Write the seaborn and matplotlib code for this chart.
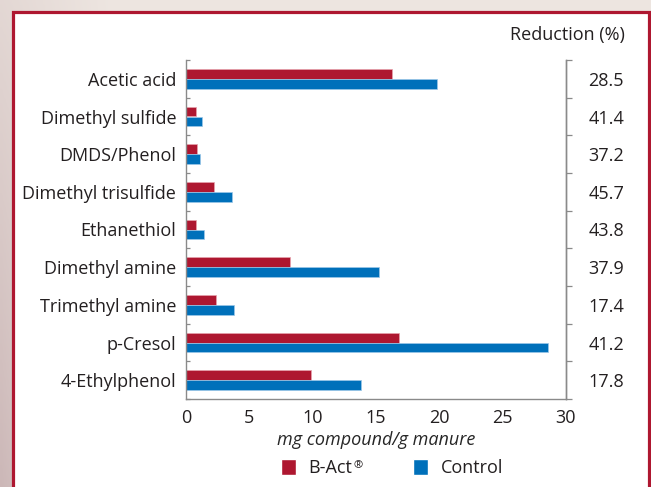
import numpy as np
import pandas as pd
import matplotlib
matplotlib.use('Agg')
import matplotlib.pyplot as plt
import seaborn as sns
from matplotlib.patches import Rectangle, Patch
from matplotlib.ticker import FixedLocator

compounds = ['Acetic acid', 'Dimethyl sulfide', 'DMDS/Phenol', 'Dimethyl trisulfide',
             'Ethanethiol', 'Dimethyl amine', 'Trimethyl amine', 'p-Cresol', '4-Ethylphenol']
bact = [16.3, 0.8, 0.9, 2.2, 0.8, 8.2, 2.4, 16.8, 9.9]
control = [19.8, 1.3, 1.1, 3.6, 1.45, 15.2, 3.8, 28.6, 13.8]
reduction = ['28.5', '41.4', '37.2', '45.7', '43.8', '37.9', '17.4', '41.2', '17.8']
groups = ['B-Act®', 'Control']

RED = '#ae1730'
BLUE = '#0070ba'
TXT = '#231f20'
GREY = '#8a8a8a'
FS = 13

df = pd.DataFrame({
    'compound': compounds * 2,
    'value': bact + control,
    'group': [groups[0]] * len(compounds) + [groups[1]] * len(compounds),
})

sns.set_style('white')
plt.rcParams['font.family'] = ['Open Sans', 'DejaVu Sans']
plt.rcParams['text.color'] = TXT
plt.rcParams['xtick.color'] = TXT
plt.rcParams['ytick.color'] = TXT

W, H = 651, 487
fig = plt.figure(figsize=(W / 100, H / 100), dpi=100)

# background with a soft gradient and the red framed white panel
bg = fig.add_axes([0, 0, 1, 1])
gx = np.linspace(0, 1, 200)
gy = np.linspace(0, 1, 200)
GX, GY = np.meshgrid(gx, gy)
shade = np.clip(1 - GX * 6, 0, 1) * (0.3 + 0.7 * GY)
c1 = np.array([0.93, 0.90, 0.88])
c2 = np.array([0.80, 0.72, 0.72])
img = c1[None, None, :] * (1 - shade[..., None]) + c2[None, None, :] * shade[..., None]
bg.imshow(img, extent=[0, 1, 0, 1], aspect='auto', origin='upper')
bg.add_patch(Rectangle((12.5 / W, -0.05), (648.5 - 12.5) / W, (H - 11.5) / H + 0.05,
                       facecolor='white', edgecolor=RED, linewidth=2.3,
                       transform=bg.transAxes))
bg.set_xlim(0, 1)
bg.set_ylim(0, 1)
bg.axis('off')

ax = fig.add_axes([186 / W, (H - 399) / H, (566 - 186) / W, (399 - 60) / H])
sns.barplot(data=df, y='compound', x='value', hue='group', orient='h',
            palette=[RED, BLUE], saturation=1, width=0.52, ax=ax, legend=False)

edge = {0: '#e7a3ad', 1: '#9cc8e8'}
for k, cont in enumerate(ax.containers):
    for bar in cont:
        bar.set_edgecolor(edge[k])
        bar.set_linewidth(0.5)

ax.set_xlim(0, 30)
ax.set_ylim(8.5, -0.5)
ax.set_xticks(range(0, 31, 5))
ax.set_xlabel('mg compound/g manure', fontsize=FS, style='italic', labelpad=3)
ax.set_ylabel('')
ax.tick_params(axis='x', labelsize=FS, length=5, width=0.9, color=GREY, pad=2)
ax.tick_params(axis='y', which='major', labelsize=FS, length=0, pad=7)
ax.yaxis.set_minor_locator(FixedLocator(np.arange(-0.5, 9, 1)))
ax.tick_params(axis='y', which='minor', length=3, width=0.9, color=GREY, direction='in')

ax.spines['top'].set_visible(False)
for s in ['left', 'bottom', 'right']:
    ax.spines[s].set_color(GREY)
    ax.spines[s].set_linewidth(1.0)

ax2 = ax.twinx()
ax2.set_ylim(8.5, -0.5)
ax2.set_yticks(range(len(compounds)))
ax2.set_yticklabels(reduction)
ax2.yaxis.set_minor_locator(FixedLocator(np.arange(-0.5, 9, 1)))
ax2.tick_params(axis='y', which='major', labelsize=FS, length=0, pad=16)
ax2.tick_params(axis='y', which='minor', length=4, width=0.9, color=GREY, direction='out')
for s in ['top', 'left', 'bottom']:
    ax2.spines[s].set_visible(False)
ax2.spines['right'].set_color(GREY)
ax2.spines['right'].set_linewidth(1.0)

fig.text(625 / W, 1 - 35 / H, 'Reduction (%)', ha='right', va='center', fontsize=FS)

# legend: "B-Act" with a small superscript registered sign drawn after it
handles = [Patch(facecolor=RED), Patch(facecolor=BLUE)]
leg = fig.legend(handles, ['B-Act', 'Control'], loc='center',
                 bbox_to_anchor=(392 / W, 1 - 468 / H), ncol=2,
                 frameon=False, fontsize=FS, handlelength=0.8, handleheight=1.05,
                 handletextpad=0.7, columnspacing=3.4)
fig.canvas.draw()
t = leg.get_texts()[0]
bb = t.get_window_extent(fig.canvas.get_renderer())
fig.text((bb.x1 + 1) / W, (bb.y1 - 1) / H, groups[0][-1], ha='left', va='top', fontsize=8)

fig.savefig('out.png', dpi=100)
